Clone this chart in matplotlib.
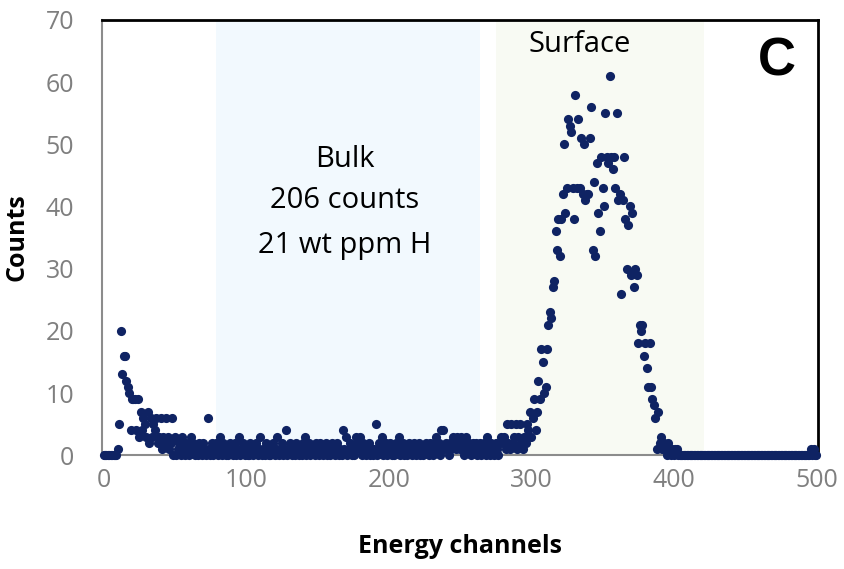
import matplotlib.pyplot as plt
import numpy as np

# counts per energy channel (0..500)
counts = [
    0, 0, 0, 0, 0, 0, 0, 0, 0, 0,
    1, 5, 20, 13, 16, 16, 12, 11, 10, 4,
    9, 9, 9, 4, 9, 3, 7, 4, 6, 5,
    3, 7, 2, 6, 3, 5, 4, 6, 2, 3,
    6, 1, 3, 2, 6, 3, 1, 2, 6, 0,
    3, 0, 1, 2, 0, 3, 1, 0, 2, 1,
    0, 3, 1, 2, 0, 1, 0, 2, 1, 0,
    2, 1, 0, 6, 1, 0, 2, 0, 1, 2,
    0, 1, 3, 0, 2, 1, 0, 0, 1, 2,
    1, 0, 2, 0, 1, 3, 0, 1, 2, 0,
    1, 0, 0, 2, 1, 0, 1, 2, 0, 1,
    3, 0, 1, 0, 2, 1, 0, 0, 1, 2,
    0, 1, 3, 0, 1, 2, 0, 1, 4, 0,
    1, 2, 0, 1, 0, 2, 1, 0, 1, 0,
    2, 3, 0, 1, 2, 0, 1, 1, 0, 2,
    1, 0, 2, 1, 0, 1, 2, 0, 1, 0,
    2, 1, 0, 1, 2, 0, 1, 0, 4, 1,
    3, 0, 1, 2, 0, 1, 0, 3, 2, 1,
    3, 0, 2, 1, 0, 1, 2, 0, 1, 0,
    1, 5, 0, 2, 1, 3, 0, 1, 2, 0,
    1, 2, 0, 1, 0, 2, 1, 3, 0, 1,
    2, 0, 1, 0, 2, 1, 0, 1, 2, 0,
    1, 2, 0, 1, 0, 1, 2, 1, 0, 2,
    1, 0, 2, 3, 1, 2, 0, 4, 4, 1,
    2, 1, 0, 2, 1, 3, 2, 1, 3, 2,
    1, 3, 2, 0, 3, 1, 2, 1, 0, 2,
    1, 2, 0, 1, 2, 0, 1, 2, 0, 3,
    1, 0, 2, 1, 0, 2, 1, 0, 2, 3,
    2, 3, 1, 5, 2, 1, 5, 2, 3, 5,
    1, 3, 5, 2, 1, 3, 2, 5, 4, 7,
    3, 6, 9, 4, 7, 12, 9, 17, 15, 10,
    11, 17, 21, 23, 22, 27, 28, 36, 33, 38,
    32, 38, 42, 50, 39, 43, 54, 53, 52, 43,
    38, 58, 43, 54, 43, 51, 42, 50, 41, 42,
    42, 51, 56, 33, 44, 32, 47, 39, 36, 48,
    43, 40, 55, 48, 47, 61, 48, 46, 48, 43,
    55, 41, 42, 26, 41, 48, 38, 30, 37, 40,
    29, 39, 27, 30, 29, 18, 21, 20, 21, 16,
    18, 14, 11, 18, 11, 9, 8, 6, 1, 7,
    2, 3, 1, 2, 1, 0, 2, 1, 0, 1,
    0, 1, 1, 0, 0, 0, 0, 0, 0, 0,
    0, 0, 0, 0, 0, 0, 0, 0, 0, 0,
    0, 0, 0, 0, 0, 0, 0, 0, 0, 0,
    0, 0, 0, 0, 0, 0, 0, 0, 0, 0,
    0, 0, 0, 0, 0, 0, 0, 0, 0, 0,
    0, 0, 0, 0, 0, 0, 0, 0, 0, 0,
    0, 0, 0, 0, 0, 0, 0, 0, 0, 0,
    0, 0, 0, 0, 0, 0, 0, 0, 0, 0,
    0, 0, 0, 0, 0, 0, 0, 0, 0, 0,
    0, 0, 0, 0, 0, 0, 1, 0, 1, 0,
    0,
]
channels = np.arange(len(counts))

bulk_range = (79, 264)
surface_range = (275, 421)
bulk_text = ['Bulk', '206 counts', '21 wt ppm H']

fig = plt.figure(figsize=(8.44, 5.69), dpi=100)
ax = fig.add_axes([0.121, 0.2, 0.848, 0.765])

ax.axvspan(*bulk_range, color='#f2f9fe', zorder=0, lw=0)
ax.axvspan(*surface_range, color='#f8faf3', zorder=0, lw=0)

ax.plot(channels, counts, 'o', color='#0f2363', ms=6.6, mec='none',
        clip_on=False, zorder=4)

ax.set_xlim(-1, 501)
ax.set_ylim(0, 70)
ax.set_xticks(range(0, 501, 100))
ax.set_yticks(range(0, 71, 10))
ax.tick_params(length=0, labelsize=18, labelcolor='#7f7f7f')
ax.tick_params(axis='y', pad=20)
ax.tick_params(axis='x', pad=9)
for lab in ax.get_xticklabels() + ax.get_yticklabels():
    lab.set_family('Open Sans')

for side in ['top', 'right']:
    ax.spines[side].set_color('black')
    ax.spines[side].set_linewidth(2)
for side in ['left', 'bottom']:
    ax.spines[side].set_color('#8c8c8c')
    ax.spines[side].set_linewidth(1.5)

ax.set_xlabel('Energy channels', fontsize=18, fontweight='bold',
              family='Open Sans', labelpad=30)
ax.set_ylabel('Counts', fontsize=18, fontweight='bold',
              family='Open Sans', labelpad=12)

for txt, yv in zip(bulk_text, [47.5, 41, 33.8]):
    ax.text(169, yv, txt, ha='center', va='center', fontsize=21,
            family='Open Sans')
ax.text(334, 66, 'Surface', ha='center', va='center', fontsize=21,
        family='Open Sans')
ax.text(472, 63.3, 'C', ha='center', va='center', fontsize=38,
        fontweight='bold', family='Liberation Sans')

fig.savefig('out.png', dpi=100)
